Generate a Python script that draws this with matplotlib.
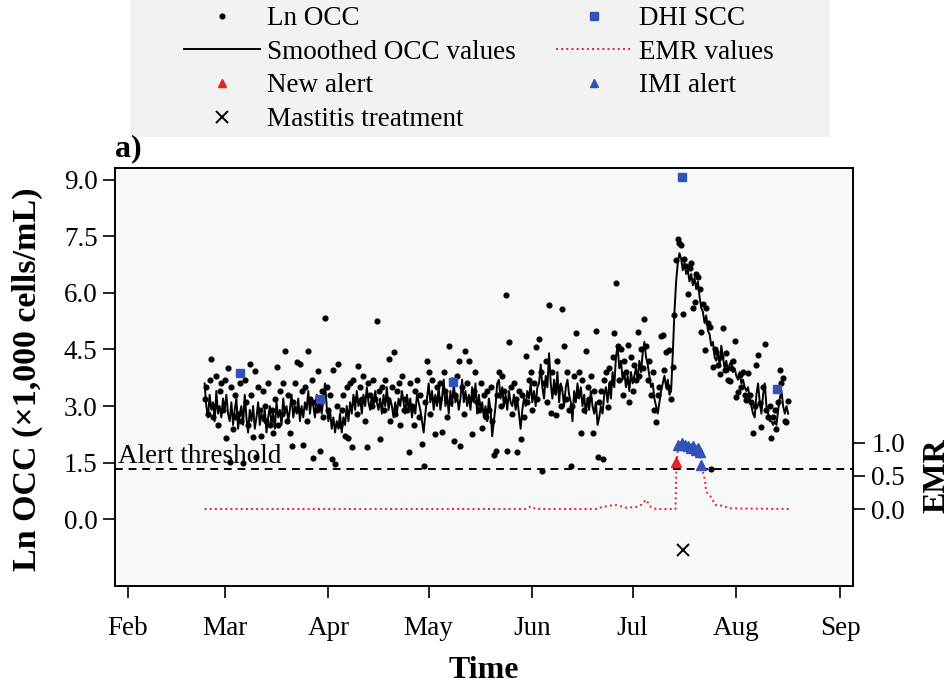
import datetime as dt

import numpy as np
import matplotlib
matplotlib.use("Agg")
import matplotlib.pyplot as plt
import matplotlib.dates as mdates
from matplotlib.lines import Line2D
from matplotlib.patches import Rectangle
from matplotlib.ticker import FixedLocator, FormatStrFormatter

plt.rcParams["font.family"] = ["Liberation Serif", "DejaVu Serif"]

# ---- data (days counted from 1 Feb 2016) ----
START = dt.datetime(2016, 2, 1)
occ_first_day = 23.0
occ_step_days = 0.5

# observed Ln OCC, one value per milking
ln_occ = [
    3.2, 3.5, 2.8, 3.7, 4.24, 2.7, 3.0, 3.8, 2.5, 3.4, 3.6, 2.9, 3.7, 2.15, 4.0, 1.53, 3.5, 2.4, 3.3, 2.7,
    2.8, 3.6, 2.6, 1.48, 3.7, 3.1, 2.5, 4.12, 3.3, 2.19, 3.93, 1.66, 3.5, 2.9, 2.2, 3.4, 3.0, 2.6, 3.6, 2.5,
    2.9, 2.3, 3.2, 4.03, 2.5, 3.4, 2.8, 3.6, 4.46, 2.6, 3.3, 2.29, 1.95, 3.1, 3.6, 4.16, 2.9, 4.12, 3.4, 1.97,
    3.5, 2.6, 4.46, 3.2, 3.7, 1.62, 3.1, 2.9, 3.93, 1.82, 3.4, 2.7, 5.33, 3.5, 2.9, 3.3, 1.6, 3.96, 1.47, 3.0,
    4.11, 2.5, 2.9, 3.3, 2.2, 3.5, 2.15, 3.6, 1.91, 3.7, 3.2, 2.8, 4.06, 3.5, 3.2, 3.8, 2.6, 1.92, 3.6, 3.3,
    3.0, 3.7, 3.2, 5.26, 3.4, 2.12, 3.5, 2.9, 3.7, 3.2, 4.24, 2.6, 3.5, 4.44, 2.8, 3.4, 3.6, 2.5, 3.8, 2.9,
    3.2, 2.9, 1.79, 3.6, 3.0, 2.5, 3.4, 3.7, 2.7, 3.3, 2.0, 1.42, 3.1, 4.2, 3.9, 2.8, 3.7, 3.2, 2.25, 3.5,
    3.2, 3.6, 2.32, 3.9, 3.4, 2.7, 4.6, 3.1, 3.7, 2.07, 3.3, 3.8, 4.2, 1.94, 3.5, 2.8, 4.47, 3.6, 4.2, 3.2,
    2.25, 3.4, 3.9, 3.1, 2.9, 3.6, 2.43, 3.3, 2.7, 3.4, 2.9, 3.5, 2.6, 1.7, 1.82, 3.3, 3.9, 3.0, 3.8, 3.4,
    5.94, 1.81, 4.71, 3.5, 2.8, 3.6, 3.2, 1.78, 3.4, 2.12, 3.3, 2.7, 4.33, 3.1, 3.7, 3.9, 2.9, 3.6, 4.57, 3.2,
    4.77, 3.9, 1.28, 3.6, 4.2, 3.1, 5.68, 2.81, 3.9, 3.4, 2.76, 4.2, 3.5, 3.0, 5.57, 4.59, 3.2, 3.9, 2.9, 1.42,
    3.0, 3.8, 4.93, 3.3, 3.9, 2.29, 3.7, 2.9, 4.46, 3.5, 3.2, 3.8, 2.29, 3.4, 5.0, 1.66, 3.1, 3.4, 1.59, 3.7,
    3.9, 2.98, 4.0, 3.6, 4.3, 4.93, 6.25, 4.59, 3.7, 4.5, 3.3, 4.2, 3.9, 4.62, 3.1, 4.3, 3.4, 4.1, 3.7, 4.97,
    3.8, 4.5, 4.0, 5.31, 4.6, 3.7, 4.2, 3.3, 3.9, 2.9, 2.59, 3.3, 3.5, 4.86, 4.88, 3.96, 4.42, 3.5, 4.49, 3.18,
    4.04, 5.4, 6.87, 7.44, 7.31, 7.28, 5.44, 6.9, 6.7, 5.97, 6.65, 6.8, 5.59, 5.77, 6.5, 6.43, 6.1, 4.97, 5.7, 4.49,
    5.6, 5.2, 5.1, 1.32, 4.04, 4.5, 4.44, 4.1, 3.85, 4.3, 5.06, 3.96, 4.4, 3.7, 3.67, 4.0, 4.2, 4.73, 3.25, 3.38,
    3.82, 3.5, 3.9, 3.3, 3.16, 3.88, 3.29, 3.1, 2.28, 3.0, 4.09, 4.35, 3.08, 2.44, 3.5, 4.64, 2.9, 2.72, 3.0, 2.15,
    2.7, 2.9, 2.4, 3.1, 3.96, 3.6, 3.74, 2.6, 2.59, 3.14,
]

smoothed_occ = [
    3.6, 3.0, 2.7, 3.3, 2.9, 3.1, 2.6, 3.4, 2.8, 3.0, 2.7, 3.2, 2.9, 3.3, 2.8, 2.6, 3.1, 2.5, 2.9, 3.2,
    2.4, 2.8, 3.0, 2.5, 3.3, 2.7, 2.3, 2.9, 2.6, 3.0, 2.4, 2.7, 3.1, 2.5, 2.8, 2.6, 2.9, 2.3, 2.7, 3.0,
    2.5, 2.8, 2.4, 3.1, 2.7, 2.9, 2.5, 3.2, 2.8, 3.0, 2.6, 2.9, 3.3, 2.7, 3.0, 2.8, 3.2, 2.6, 3.0, 2.7,
    3.1, 2.9, 3.4, 2.8, 3.2, 3.0, 2.7, 3.3, 2.9, 3.1, 2.8, 3.2, 3.6, 3.0, 2.6, 2.9, 2.4, 2.7, 2.3, 2.6,
    2.4, 2.8, 2.3, 2.7, 2.5, 3.0, 2.6, 3.1, 2.8, 3.3, 2.9, 3.4, 3.0, 3.2, 2.8, 3.3, 3.0, 3.5, 3.1, 2.9,
    3.3, 3.0, 3.4, 3.1, 2.9, 3.2, 2.8, 3.3, 3.0, 3.5, 2.9, 3.2, 3.0, 2.7, 3.1, 2.8, 3.2, 3.0, 3.4, 3.1,
    2.8, 3.3, 2.9, 3.2, 2.7, 3.0, 2.8, 3.3, 3.1, 2.9, 2.6, 2.3, 2.8, 3.2, 3.6, 3.1, 3.4, 2.9, 3.3, 3.0,
    3.5, 2.9, 3.2, 3.7, 3.0, 3.3, 2.8, 3.4, 3.0, 3.6, 3.1, 3.3, 2.9, 3.2, 3.7, 3.1, 3.4, 3.0, 3.3, 2.9,
    3.5, 3.1, 3.6, 2.8, 3.3, 2.9, 3.1, 2.7, 3.0, 2.6, 3.2, 2.9, 2.2, 2.6, 3.0, 3.6, 3.7, 3.2, 3.5, 3.0,
    3.3, 2.9, 3.4, 3.1, 3.0, 3.3, 2.9, 3.2, 2.8, 2.4, 2.9, 3.2, 3.0, 3.4, 3.2, 3.6, 3.1, 3.4, 3.0, 3.5,
    3.6, 4.1, 3.5, 3.2, 3.8, 3.5, 4.4, 3.6, 3.2, 3.7, 3.3, 3.9, 3.1, 3.6, 3.4, 3.0, 3.5, 3.7, 3.3, 3.1,
    2.6, 3.4, 3.1, 3.6, 3.2, 3.5, 3.0, 3.3, 2.8, 3.2, 2.9, 3.4, 3.0, 2.8, 3.1, 2.5, 2.7, 3.0, 2.8, 3.3,
    3.5, 3.1, 3.6, 3.2, 3.9, 3.5, 4.3, 4.6, 4.0, 4.2, 3.7, 3.9, 3.5, 3.8, 3.4, 3.9, 3.6, 3.8, 4.0, 3.7,
    4.2, 3.9, 4.4, 4.7, 4.3, 4.1, 3.8, 3.5, 3.6, 3.2, 3.0, 2.8, 3.1, 3.4, 3.6, 3.8, 3.5, 3.7, 3.3, 3.4,
    4.4, 5.5, 6.3, 6.8, 7.05, 6.9, 6.6, 6.8, 6.5, 6.6, 6.3, 6.5, 6.2, 6.4, 6.1, 6.3, 5.9, 5.6, 5.5, 5.2,
    5.4, 5.0, 4.9, 4.6, 4.7, 4.3, 4.2, 4.4, 4.1, 4.6, 4.3, 4.0, 4.2, 3.9, 4.1, 4.2, 3.9, 4.0, 3.8, 3.7,
    3.9, 3.6, 3.7, 3.5, 3.4, 3.5, 3.2, 3.0, 2.8, 2.7, 3.3, 3.6, 3.1, 2.8, 3.3, 3.6, 3.0, 2.8, 2.6, 2.6,
    2.5, 2.6, 2.5, 2.9, 3.2, 3.4, 3.0, 2.8, 3.0, 2.8,
]

scc_days = [33.5, 57.4, 97.2, 165.8, 194.1]
scc_vals = [3.87, 3.20, 3.65, 9.07, 3.44]

emr_days = [23, 119, 120.5, 122, 140, 142, 144, 146, 149, 152, 153.5, 155, 156.5, 158,
            163.8, 164.1, 164.7, 165.7, 166.7, 167.6, 168.4, 169.1, 169.9, 170.6, 171.1, 171.5,
            172.6, 173.0, 174.3, 175.8, 177.8, 180, 197.7]
emr_vals = [0.0, 0.0, 0.04, 0.0, 0.0, 0.03, 0.05, 0.06, 0.02, 0.03, 0.06, 0.14, 0.03, 0.0,
            0.0, 0.71, 0.97, 1.0, 0.97, 0.95, 0.92, 0.95, 0.90, 0.92, 0.87, 0.67,
            0.44, 0.26, 0.19, 0.06, 0.05, 0.01, 0.0]

new_alert_days = [164.1]
new_alert_emr = [0.71]
imi_days = [164.7, 165.7, 166.7, 167.6, 168.4, 169.1, 169.9, 170.6, 171.1, 171.5]
imi_emr = [0.97, 1.0, 0.97, 0.95, 0.92, 0.95, 0.90, 0.92, 0.87, 0.67]

treat_days = [166.1]
treat_vals = [-0.8]

alert_threshold = 0.6
month_ticks = [dt.datetime(2016, m, 1) for m in range(2, 10)]

# ---- helpers ----
base = mdates.date2num(START)


def to_x(days):
    return base + np.asarray(days, dtype=float)


occ_days = occ_first_day + occ_step_days * np.arange(len(ln_occ))

BLUE = "#3152b8"
RED = "#e8231f"

fig = plt.figure(figsize=(9.51, 6.85), dpi=100)
fig.patch.set_facecolor("white")
fig.add_artist(Rectangle((130 / 951, 1 - 137 / 685), 700 / 951, 137 / 685,
                         transform=fig.transFigure, facecolor="#f2f2f2",
                         edgecolor="none", zorder=0))

ax = fig.add_axes([115 / 951, 1 - 586 / 685, 737.7 / 951, 418 / 685])
ax.set_facecolor("#f8f8f8")

ax.plot(to_x(occ_days), ln_occ, "o", color="black", ms=3.4, zorder=3)
ax.plot(to_x(occ_days), smoothed_occ, "-", color="black", lw=1.4, zorder=4)
ax.plot(to_x(scc_days), scc_vals, "s", color=BLUE, ms=6, zorder=5)
ax.plot(to_x(treat_days), treat_vals, "x", color="black", ms=9, mew=1.4, zorder=5)

ax.set_xlim(base - 3.8, base + 216.8)
ax.set_ylim(-1.767, 9.308)
ax.yaxis.set_major_locator(FixedLocator([0, 1.5, 3.0, 4.5, 6.0, 7.5, 9.0]))
ax.yaxis.set_major_formatter(FormatStrFormatter("%.1f"))
ax.xaxis.set_major_locator(FixedLocator(mdates.date2num(month_ticks)))
ax.xaxis.set_major_formatter(mdates.DateFormatter("%b"))
ax.tick_params(axis="both", direction="out", length=8.5, width=1.2, labelsize=19.5)
ax.tick_params(axis="x", pad=13)
ax.tick_params(axis="y", pad=4)
for sp in ax.spines.values():
    sp.set_linewidth(1.2)

# EMR on the secondary axis
ax2 = ax.twinx()
ax2.set_ylim((-1.767 - 0.273) / 1.749, (9.308 - 0.273) / 1.749)
ax2.plot(to_x(emr_days), emr_vals, ":", color=RED, lw=1.4, zorder=3)
ax2.plot(to_x(new_alert_days), new_alert_emr, "^", color=RED, ms=7, zorder=5)
ax2.plot(to_x(imi_days), imi_emr, "^", color=BLUE, ms=7, zorder=5)
ax2.axhline(alert_threshold, color="black", ls=(0, (4, 3)), lw=1.4, zorder=2)
ax2.annotate("Alert threshold", xy=(0, alert_threshold), xycoords=("axes fraction", "data"),
             xytext=(2, 4.5), textcoords="offset points", fontsize=19.5, va="baseline")
ax2.yaxis.set_major_locator(FixedLocator([0.0, 0.5, 1.0]))
ax2.yaxis.set_major_formatter(FormatStrFormatter("%.1f"))
ax2.tick_params(axis="y", direction="out", length=8.5, width=1.2, labelsize=19.5, pad=5)
for sp in ax2.spines.values():
    sp.set_linewidth(1.2)

# labels
fig.text(27 / 951, 1 - 379 / 685, "Ln OCC (\u00d71,000 cells/mL)", rotation=90,
         ha="center", va="center", fontsize=24.5, fontweight="bold")
fig.text(937 / 951, 1 - 476 / 685, "EMR", rotation=90,
         ha="center", va="center", fontsize=23, fontweight="bold")
fig.text(484 / 951, 1 - 670 / 685, "Time", ha="center", va="center",
         fontsize=23, fontweight="bold")
fig.text(128 / 951, 1 - 149 / 685, "a)", ha="center", va="center",
         fontsize=23, fontweight="bold")

# legend
handles = [
    Line2D([], [], ls="none", marker="o", color="black", ms=3.4),
    Line2D([], [], ls="-", color="black", lw=1.4),
    Line2D([], [], ls="none", marker="^", color=RED, ms=6),
    Line2D([], [], ls="none", marker="x", color="black", ms=9, mew=1.4),
    Line2D([], [], ls="none", marker="s", color=BLUE, ms=6),
    Line2D([], [], ls=":", color=RED, lw=1.4),
    Line2D([], [], ls="none", marker="^", color=BLUE, ms=6),
]
labels = ["Ln OCC", "Smoothed OCC values", "New alert", "Mastitis treatment",
          "DHI SCC", "EMR values", "IMI alert"]
fig.legend(handles, labels, loc="upper left", bbox_to_anchor=(184 / 951, 1 - 6 / 685),
           ncol=2, frameon=False, fontsize=19.5, borderpad=0, borderaxespad=0,
           handlelength=2.8, handletextpad=0.25, columnspacing=1.5, labelspacing=0.32)

fig.savefig("out.png", dpi=100)
